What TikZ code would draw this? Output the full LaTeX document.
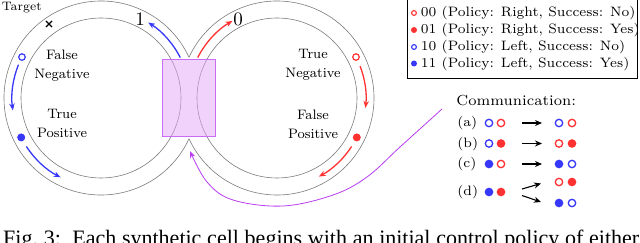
\documentclass[tikz,border=0pt]{standalone}
\usepackage{fontspec}
\newfontfamily\capfont{Liberation Serif}
\usetikzlibrary{arrows.meta,shapes.misc}
\definecolor{myblue}{RGB}{55,55,250}
\definecolor{myred}{RGB}{255,50,50}
\definecolor{mypurple}{RGB}{185,60,240}
\definecolor{ringgray}{RGB}{125,125,125}
\definecolor{boxfill}{RGB}{225,165,245}
\begin{document}
\begin{tikzpicture}[x=1pt,y=-1pt,
  ring/.style={draw=ringgray,line width=0.6pt},
  flow/.style={line width=1.3pt,-{Stealth[length=7pt,width=5.5pt]}},
  comarrow/.style={line width=1.1pt,-{Stealth[length=7pt,width=6pt]}},
  lbl7/.style={font=\fontsize{7}{8.4}\selectfont,inner sep=0pt},
  lbl8/.style={font=\fontsize{8}{11.1}\selectfont,inner sep=0pt,align=center,scale=1.71},
  oc/.style={circle,draw=#1,line width=1.2pt,fill=white,inner sep=0pt,minimum size=6.5pt},
  fc/.style={circle,fill=#1,inner sep=0pt,minimum size=8pt},
  loc/.style={circle,draw=#1,line width=1.1pt,fill=white,inner sep=0pt,minimum size=4.8pt},
  lfc/.style={circle,fill=#1,inner sep=0pt,minimum size=6pt},
  coc/.style={circle,draw=#1,line width=1.3pt,fill=white,inner sep=0pt,minimum size=7.4pt},
  cfc/.style={circle,fill=#1,inner sep=0pt,minimum size=8.7pt}]
\useasboundingbox (0,0) rectangle (640,243);
\clip (0,0) rectangle (640,243);

% rings
\coordinate (L) at (101,98);
\coordinate (R) at (277,98);
\draw[ring] (L) circle[radius=80];
\draw[ring] (R) circle[radius=80];
\draw[ring] ([shift={(24.87:97)}]L) arc[start angle=24.87,end angle=335.13,radius=97];
\draw[ring] ([shift={(155.13:97)}]R) arc[start angle=155.13,end angle=-155.13,radius=97];

% selection box
\node[draw=mypurple!75,line width=0.6pt,fill=boxfill,fill opacity=0.5,minimum width=53pt,minimum height=77pt,inner sep=0pt] (sel) at (188.5,97.5) {};

% top arrows
\draw[flow,myblue] ([shift={(-27:89)}]L) arc[start angle=-27,end angle=-58,radius=89];
\draw[flow,myred] ([shift={(-153:89)}]R) arc[start angle=-153,end angle=-120,radius=89];
\node[font=\fontsize{10}{12}\selectfont,inner sep=0pt,scale=1.9] (one) at (140,19) {1};
\node[font=\fontsize{10}{12}\selectfont,inner sep=0pt,scale=1.9] (zero) at (238,19) {0};

% left ring markers
\node[oc=myblue] (bo) at ([shift={(207.4:89)}]L) {};
\node[fc=myblue] (bf) at ([shift={(153.7:89)}]L) {};
\draw[flow,myblue] ([shift={(202:89)}]L) arc[start angle=202,end angle=172,radius=89];
\draw[flow,myblue] ([shift={(147:89)}]L) arc[start angle=147,end angle=117,radius=89];

% right ring markers
\node[oc=myred] (ro) at ([shift={(-27.4:89)}]R) {};
\node[fc=myred] (rf) at ([shift={(26.3:89)}]R) {};
\draw[flow,myred] ([shift={(-21:89)}]R) arc[start angle=-21,end angle=6.4,radius=89];
\draw[flow,myred] ([shift={(33:89)}]R) arc[start angle=33,end angle=62,radius=89];

% target
\node[lbl7,scale=1.75,anchor=west] (target) at (1.5,7.5) {Target};
\node[cross out,draw,line width=1.1pt,minimum size=5pt,inner sep=0pt] (tgt) at (49,24) {};

% ring labels
\node[lbl8] (fn) at (62,65.5) {False\\Negative};
\node[lbl8] (tp) at (62,123.5) {True\\Positive};
\node[lbl8] (tn) at (313,64.5) {True\\Negative};
\node[lbl8] (fp) at (313,124.5) {False\\Positive};

% purple feedback curve
\coordinate (cs) at (442,109);
\coordinate (ce) at (190,151);
\draw[mypurple,line width=0.8pt,-{Stealth[length=7pt,width=5.5pt]}]
  plot[smooth,tension=0.6] coordinates {(cs) (400,147) (367,177) (333,195) (283,206) (233,200) (207,182) (ce)};

% legend
\node[draw,line width=0.7pt,minimum width=230pt,minimum height=80pt,inner sep=0pt,anchor=north west] (legbox) at (407,-2) {};
\node[loc=myred] (m00) at (414,13) {};
\node[lfc=myred] (m01) at (414,30) {};
\node[loc=myblue] (m10) at (414,47) {};
\node[lfc=myblue] (m11) at (414,63.5) {};
\node[lbl7,scale=1.95,anchor=west] (t00) at (420.5,13.5) {00 (Policy: Right, Success: No)};
\node[lbl7,scale=1.95,anchor=west] (t01) at (420.5,30.5) {01 (Policy: Right, Success: Yes)};
\node[lbl7,scale=1.95,anchor=west] (t10) at (420.5,47.5) {10 (Policy: Left, Success: No)};
\node[lbl7,scale=1.95,anchor=west] (t11) at (420.5,64) {11 (Policy: Left, Success: Yes)};

% communication
\node[lbl7,scale=2.09,anchor=west] (comm) at (456,100.5) {Communication:};
\node[lbl7,scale=1.95,anchor=west] (la) at (457,123.5) {(a)};
\node[lbl7,scale=1.95,anchor=west] (lb) at (457,144) {(b)};
\node[lbl7,scale=1.95,anchor=west] (lc) at (457,164.5) {(c)};
\node[lbl7,scale=1.95,anchor=west] (ld) at (457,192.5) {(d)};

\node[coc=myblue] (a1) at (489,123) {};
\node[coc=myred] (a2) at (501,123) {};
\node[coc=myblue] (a3) at (559,123) {};
\node[coc=myred] (a4) at (572,123) {};
\coordinate (aS) at (522,123); \coordinate (aE) at (542,123);
\draw[comarrow] (aS) -- (aE);

\node[coc=myblue] (b1) at (489,143.5) {};
\node[cfc=myred] (b2) at (501,143.5) {};
\node[coc=myred] (b3) at (559,143.5) {};
\node[cfc=myred] (b4) at (572,143.5) {};
\coordinate (bS) at (522,143.5); \coordinate (bE) at (542,143.5);
\draw[comarrow] (bS) -- (bE);

\node[cfc=myblue] (c1) at (489,164) {};
\node[coc=myred] (c2) at (501,164) {};
\node[cfc=myblue] (c3) at (559,164) {};
\node[coc=myblue] (c4) at (572,164) {};
\coordinate (cS) at (522,164); \coordinate (cE) at (542,164);
\draw[comarrow] (cS) -- (cE);

\node[cfc=myblue] (d1) at (489,192) {};
\node[cfc=myred] (d2) at (501,192) {};
\node[coc=myred] (d3) at (559,182) {};
\node[cfc=myred] (d4) at (572,182) {};
\node[cfc=myblue] (d5) at (559,203) {};
\node[coc=myblue] (d6) at (572,203) {};
\coordinate (dS1) at (522,189); \coordinate (dE1) at (541,183.5);
\coordinate (dS2) at (522,195.5); \coordinate (dE2) at (541,202);
\draw[comarrow] (dS1) -- (dE1);
\draw[comarrow] (dS2) -- (dE2);

% caption (cut off at the bottom, as in the reference)
\node[anchor=base west,inner sep=0pt] (cap) at (3,245.5) {\capfont\fontsize{22}{26}\selectfont\makebox[636pt][s]{Fig.~3:\ \ Each synthetic cell begins with an initial control policy of either}};
\end{tikzpicture}
\end{document}
